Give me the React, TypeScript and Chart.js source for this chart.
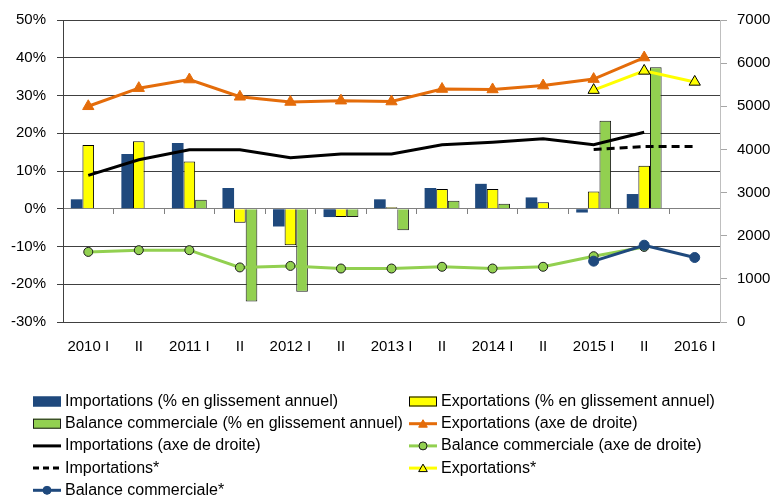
import React, { useEffect, useRef } from 'react';
import { Chart, registerables } from 'chart.js';

Chart.register(...registerables);

// ---------- data ----------
const categories = ['2010 I', 'II', '2011 I', 'II', '2012 I', 'II', '2013 I', 'II', '2014 I', 'II', '2015 I', 'II', '2016 I'];

// % en glissement annuel (left axis)
const importPct = [2.5, 14.5, 17.4, 5.5, -4.7, -2.2, 2.5, 5.5, 6.6, 3.0, -1.0, 3.9, null];
const exportPct = [16.9, 17.9, 12.5, -3.7, -9.7, -2.2, 0.4, 5.2, 5.2, 1.7, 4.6, 11.4, null];
const balancePct = [null, null, 2.4, -24.6, -22.0, -2.2, -5.7, 2.1, 1.3, -0.2, 23.3, 37.5, null];

// levels (right axis)
const exportLevel = [5000, 5420, 5620, 5220, 5100, 5130, 5110, 5400, 5390, 5480, 5630, 6130, null];
const importLevel = [3400, 3760, 3990, 3990, 3805, 3895, 3895, 4110, 4165, 4245, 4110, 4400, null];
const balanceLevel = [1625, 1665, 1665, 1265, 1300, 1240, 1240, 1280, 1240, 1280, 1525, 1740, null];

// forecasts (right axis)
const importForecast = [null, null, null, null, null, null, null, null, null, null, 4000, 4065, 4065];
const exportForecast = [null, null, null, null, null, null, null, null, null, null, 5375, 5820, 5565];
const balanceForecast = [null, null, null, null, null, null, null, null, null, null, 1410, 1780, 1495];

const leftMin = -30;
const leftMax = 50;
const leftStep = 10;
const rightMin = 0;
const rightMax = 7000;
const rightStep = 1000;

// ---------- style ----------
const BLUE = '#1F497D';
const YELLOW = '#FFFF00';
const GREEN = '#92D050';
const ORANGE = '#E46C0A';
const BLACK = '#000000';
const FONT = '"Liberation Sans", Arial, sans-serif';

const LEGEND_X = [33, 409];
const LEGEND_Y0 = 401.5;
const LEGEND_DY = 22.2;
const LEGEND_W = 28;

function drawTriangle(ctx: CanvasRenderingContext2D, x: number, y: number, r: number) {
  ctx.beginPath();
  let rad = 0;
  ctx.moveTo(x + Math.sin(rad) * r, y - Math.cos(rad) * r);
  rad += (2 * Math.PI) / 3;
  ctx.lineTo(x + Math.sin(rad) * r, y - Math.cos(rad) * r);
  rad += (2 * Math.PI) / 3;
  ctx.lineTo(x + Math.sin(rad) * r, y - Math.cos(rad) * r);
  ctx.closePath();
}

const gridLegend = {
  id: 'gridLegend',
  afterDraw(chart: any) {
    const ctx: CanvasRenderingContext2D = chart.ctx;
    ctx.save();
    ctx.font = '16px ' + FONT;
    ctx.textBaseline = 'middle';
    ctx.textAlign = 'left';
    chart.data.datasets.forEach((ds: any, i: number) => {
      const col = i % 2;
      const row = Math.floor(i / 2);
      const x = LEGEND_X[col];
      const y = LEGEND_Y0 + row * LEGEND_DY;
      if (ds.type === 'bar') {
        ctx.fillStyle = ds.backgroundColor;
        ctx.fillRect(x, y - 5, LEGEND_W, 10);
        ctx.strokeStyle = ds.borderColor;
        ctx.lineWidth = 1;
        ctx.strokeRect(x + 0.5, y - 4.5, LEGEND_W - 1, 9);
      } else {
        ctx.strokeStyle = ds.borderColor;
        ctx.lineWidth = 3;
        ctx.setLineDash(ds.borderDash ? [6, 4] : []);
        ctx.beginPath();
        ctx.moveTo(x, y);
        ctx.lineTo(x + LEGEND_W, y);
        ctx.stroke();
        ctx.setLineDash([]);
        const cx = x + LEGEND_W / 2;
        if (ds.pointStyle === 'triangle' && ds.pointRadius > 0) {
          drawTriangle(ctx, cx, y + 1, 5);
          ctx.fillStyle = ds.pointBackgroundColor;
          ctx.fill();
          ctx.lineWidth = 1;
          ctx.strokeStyle = ds.pointBorderColor;
          ctx.stroke();
        } else if (ds.pointStyle === 'circle' && ds.pointRadius > 0) {
          ctx.beginPath();
          ctx.arc(cx, y, 4, 0, Math.PI * 2);
          ctx.fillStyle = ds.pointBackgroundColor;
          ctx.fill();
          ctx.lineWidth = 1;
          ctx.strokeStyle = ds.pointBorderColor;
          ctx.stroke();
        }
      }
      ctx.fillStyle = '#000';
      ctx.fillText(ds.label, x + LEGEND_W + 4, y);
    });
    ctx.restore();
  },
};

export default function App() {
  const ref = useRef<HTMLCanvasElement | null>(null);

  useEffect(() => {
    if (!ref.current) return;
    Chart.defaults.font.family = FONT;
    Chart.defaults.font.size = 15;
    Chart.defaults.color = '#000';

    const lineBase = {
      type: 'line' as const,
      yAxisID: 'y2',
      xAxisID: 'x',
      tension: 0,
      fill: false,
      borderWidth: 3,
      pointBorderWidth: 1,
      spanGaps: false,
    };

    const chart = new Chart(ref.current, {
      type: 'bar',
      data: {
        labels: categories,
        datasets: [
          {
            type: 'bar',
            label: 'Importations (% en glissement annuel)',
            data: importPct,
            backgroundColor: BLUE,
            borderColor: BLUE,
            borderWidth: 0,
            yAxisID: 'y',
            xAxisID: 'x',
            order: 2,
            categoryPercentage: 0.69,
            barPercentage: 1.0,
          },
          {
            type: 'bar',
            label: 'Exportations (% en glissement annuel)',
            data: exportPct,
            backgroundColor: YELLOW,
            borderColor: BLACK,
            borderWidth: 1,
            yAxisID: 'y',
            xAxisID: 'x',
            order: 2,
            categoryPercentage: 0.69,
            barPercentage: 1.0,
          },
          {
            type: 'bar',
            label: 'Balance commerciale (% en glissement annuel)',
            data: balancePct,
            backgroundColor: GREEN,
            borderColor: '#1a1a1a',
            borderWidth: 1,
            yAxisID: 'y',
            xAxisID: 'x',
            order: 2,
            categoryPercentage: 0.69,
            barPercentage: 1.0,
          },
          {
            ...lineBase,
            label: 'Exportations (axe de droite)',
            data: exportLevel,
            borderColor: ORANGE,
            backgroundColor: ORANGE,
            pointStyle: 'triangle',
            pointRadius: 6.5,
            pointBackgroundColor: ORANGE,
            pointBorderColor: ORANGE,
            order: 1,
          },
          {
            ...lineBase,
            label: 'Importations (axe de droite)',
            data: importLevel,
            borderColor: BLACK,
            backgroundColor: BLACK,
            pointStyle: 'line',
            pointRadius: 0,
            order: 1,
          },
          {
            ...lineBase,
            label: 'Balance commerciale (axe de droite)',
            data: balanceLevel,
            borderColor: GREEN,
            backgroundColor: GREEN,
            pointStyle: 'circle',
            pointRadius: 4.5,
            pointBackgroundColor: GREEN,
            pointBorderColor: '#1a1a1a',
            order: 1,
          },
          {
            ...lineBase,
            label: 'Importations*',
            data: importForecast,
            borderColor: BLACK,
            backgroundColor: BLACK,
            borderDash: [8, 5],
            pointStyle: 'line',
            pointRadius: 0,
            order: 0,
          },
          {
            ...lineBase,
            label: 'Exportations*',
            data: exportForecast,
            borderColor: YELLOW,
            backgroundColor: YELLOW,
            pointStyle: 'triangle',
            pointRadius: 6.5,
            pointBackgroundColor: YELLOW,
            pointBorderColor: BLACK,
            order: 0,
          },
          {
            ...lineBase,
            label: 'Balance commerciale*',
            data: balanceForecast,
            borderColor: BLUE,
            backgroundColor: BLUE,
            pointStyle: 'circle',
            pointRadius: 5,
            pointBackgroundColor: BLUE,
            pointBorderColor: BLUE,
            order: 0,
          },
        ] as any,
      },
      options: {
        responsive: false,
        animation: false,
        devicePixelRatio: 1,
        layout: { padding: { left: 0, right: 0, top: 19, bottom: 144 } },
        plugins: {
          legend: { display: false },
          tooltip: { enabled: false },
        },
        scales: {
          x: {
            type: 'category',
            position: { y: 0 } as any,
            offset: true,
            ticks: { display: false },
            grid: {
              offset: true,
              drawOnChartArea: false,
              drawTicks: true,
              tickLength: 5,
              color: '#808080',
            },
            border: { display: true, color: '#808080', width: 1 },
          },
          x2: {
            type: 'category',
            position: 'bottom',
            offset: true,
            labels: categories,
            grid: { display: false, drawTicks: false },
            border: { display: false },
            ticks: { autoSkip: false, maxRotation: 0, padding: 16, font: { size: 15 } },
            afterFit: (s: any) => {
              s.height = 33;
            },
          },
          y: {
            type: 'linear',
            position: 'left',
            min: leftMin,
            max: leftMax,
            ticks: {
              stepSize: leftStep,
              padding: 11,
              callback: (v: any) => v + '%',
            },
            grid: { color: '#404040', lineWidth: 1, tickLength: 6, tickColor: '#404040' },
            border: { color: '#404040', width: 1 },
            afterFit: (s: any) => {
              s.width = 63;
            },
          },
          y2: {
            type: 'linear',
            position: 'right',
            min: rightMin,
            max: rightMax,
            ticks: { stepSize: rightStep, padding: 10, callback: (v: any) => String(v) },
            grid: { drawOnChartArea: false, tickLength: 7, color: '#a6a6a6' },
            border: { color: '#bfbfbf', width: 1 },
            afterFit: (s: any) => {
              s.width = 53;
            },
          },
        },
      },
      plugins: [gridLegend],
    } as any);

    return () => chart.destroy();
  }, []);

  return (
    <div style={{ position: 'fixed', left: 0, top: 0, width: 773, height: 499, background: '#fff' }}>
      <canvas ref={ref} width={773} height={499} style={{ width: 773, height: 499, display: 'block' }} />
    </div>
  );
}
